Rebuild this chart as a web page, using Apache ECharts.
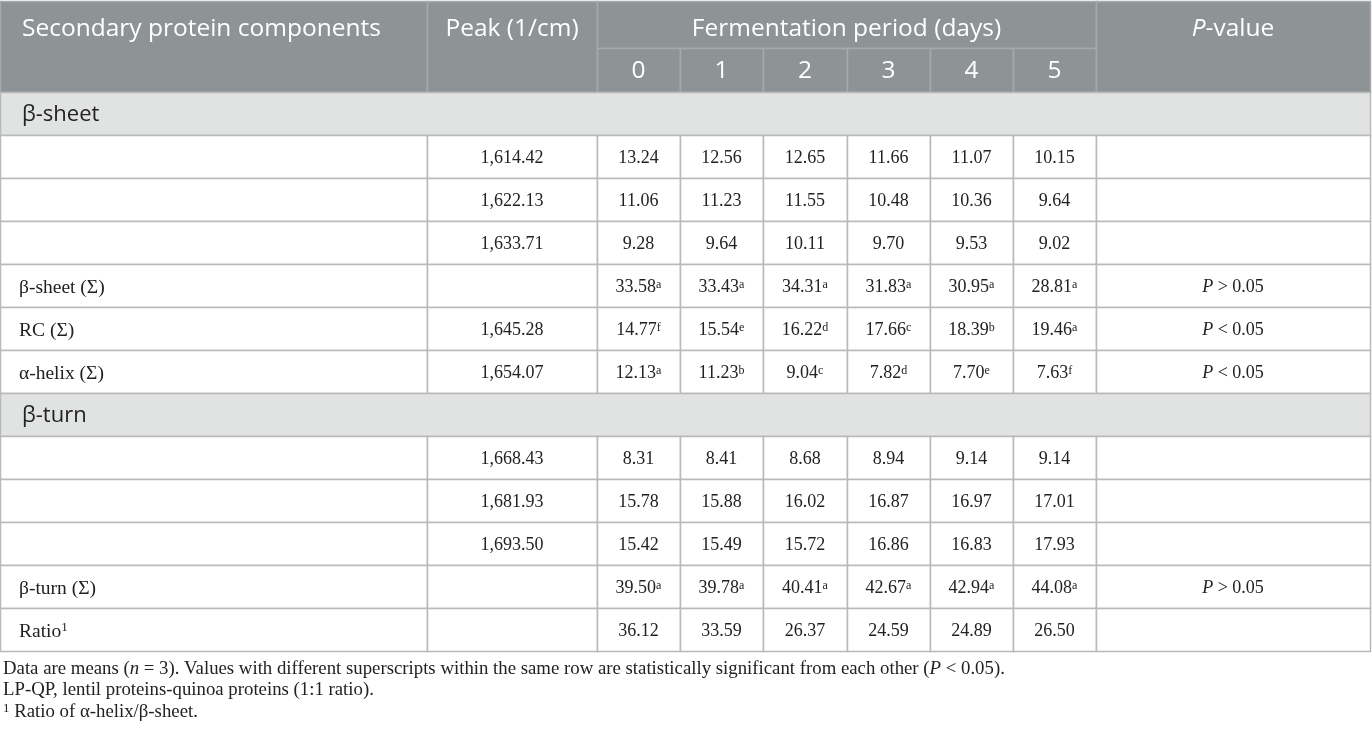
<!DOCTYPE html>
<html>
<head>
<meta charset="utf-8">
<script src="https://cdn.jsdelivr.net/npm/echarts@6/dist/echarts.min.js"></script>
<style>
html,body{margin:0;padding:0;background:#fff;}
#main{width:1372px;height:730px;}
</style>
</head>
<body>
<div id="main"></div>
<script>
// table values
var days = ['0', '1', '2', '3', '4', '5'];
var sheetPeaks = ['1,614.42', '1,622.13', '1,633.71'];
var sheetBands = [
    [13.24, 12.56, 12.65, 11.66, 11.07, 10.15],
    [11.06, 11.23, 11.55, 10.48, 10.36, 9.64],
    [9.28, 9.64, 10.11, 9.70, 9.53, 9.02]
];
var sheetSum = [33.58, 33.43, 34.31, 31.83, 30.95, 28.81];
var sheetSumSup = ['a', 'a', 'a', 'a', 'a', 'a'];
var rcPeak = '1,645.28';
var rcSum = [14.77, 15.54, 16.22, 17.66, 18.39, 19.46];
var rcSup = ['f', 'e', 'd', 'c', 'b', 'a'];
var helixPeak = '1,654.07';
var helixSum = [12.13, 11.23, 9.04, 7.82, 7.70, 7.63];
var helixSup = ['a', 'b', 'c', 'd', 'e', 'f'];
var turnPeaks = ['1,668.43', '1,681.93', '1,693.50'];
var turnBands = [
    [8.31, 8.41, 8.68, 8.94, 9.14, 9.14],
    [15.78, 15.88, 16.02, 16.87, 16.97, 17.01],
    [15.42, 15.49, 15.72, 16.86, 16.83, 17.93]
];
var turnSum = [39.50, 39.78, 40.41, 42.67, 42.94, 44.08];
var turnSup = ['a', 'a', 'a', 'a', 'a', 'a'];
var ratioVals = [36.12, 33.59, 26.37, 24.59, 24.89, 26.50];
var pSheet = '>', pRc = '<', pHelix = '<', pTurn = '>';

// layout
var colEdges = [0, 427, 597, 680, 763, 847, 930, 1013, 1096, 1370];
var tableTop = 1, headSplit = 48, headBottom = 92, rowH = 43;
var SANS = '"Open Sans", "Noto Sans", sans-serif';
var SERIF = '"Liberation Serif", "DejaVu Serif", serif';
var HEAD_BG = '#8e9395', SECT_BG = '#e1e3e2', LINE = '#b9b9b9', HEAD_LINE = '#a6aaac';

var rich = {
    s: {fontSize: 12, fontFamily: SERIF, fill: '#222', verticalAlign: 'top', lineHeight: 13},
    i: {fontSize: 18, fontFamily: SERIF, fontStyle: 'italic', fill: '#222'},
    fi: {fontSize: 18.8, fontFamily: SERIF, fontStyle: 'italic', fill: '#222'},
    fs: {fontSize: 13, fontFamily: SERIF, fill: '#222', verticalAlign: 'top', lineHeight: 14},
    ls: {fontSize: 13, fontFamily: SERIF, fill: '#222', verticalAlign: 'top', lineHeight: 14},
    hi: {fontSize: 24.5, fontFamily: SANS, fontStyle: 'italic', fill: '#fff'}
};

var cells = [];
function addCell(x0, y0, x1, y1, o) {
    o.x0 = x0; o.y0 = y0; o.x1 = x1; o.y1 = y1;
    cells.push(o);
}

// header
addCell(colEdges[0], tableTop, colEdges[1], headBottom, {fill: HEAD_BG, stroke: HEAD_LINE, text: 'Secondary protein components', head: true, align: 'left', pad: 22, ty: 29});
addCell(colEdges[1], tableTop, colEdges[2], headBottom, {fill: HEAD_BG, stroke: HEAD_LINE, text: 'Peak (1/cm)', head: true, ty: 29});
addCell(colEdges[2], tableTop, colEdges[8], headSplit, {fill: HEAD_BG, stroke: HEAD_LINE, text: 'Fermentation period (days)', head: true, ty: 29});
for (var d = 0; d < days.length; d++) {
    addCell(colEdges[2 + d], headSplit, colEdges[3 + d], headBottom, {fill: HEAD_BG, stroke: HEAD_LINE, text: days[d], head: true, ty: 71});
}
addCell(colEdges[8], tableTop, colEdges[9], headBottom, {fill: HEAD_BG, stroke: HEAD_LINE, text: '{hi|P}-value', head: true, ty: 29});

var y = headBottom;
function section(label) {
    addCell(colEdges[0], y, colEdges[9], y + rowH, {fill: SECT_BG, stroke: LINE, text: label, sect: true, align: 'left', pad: 22, dy: 1});
    y += rowH;
}
function fmt(v, sup) {
    return v.toFixed(2) + (sup ? '{s|' + sup + '}' : '');
}
function dataRow(label, peak, vals, sups, p) {
    addCell(colEdges[0], y, colEdges[1], y + rowH, {fill: '#fff', stroke: LINE, text: label, label: true, align: 'left', pad: 19, dy: 2});
    addCell(colEdges[1], y, colEdges[2], y + rowH, {fill: '#fff', stroke: LINE, text: peak, dy: 2});
    for (var k = 0; k < vals.length; k++) {
        addCell(colEdges[2 + k], y, colEdges[3 + k], y + rowH, {fill: '#fff', stroke: LINE, text: fmt(vals[k], sups && sups[k]), dy: 2});
    }
    addCell(colEdges[8], y, colEdges[9], y + rowH, {fill: '#fff', stroke: LINE, text: p ? '{i|P} ' + p + ' 0.05' : '', dy: 2});
    y += rowH;
}

section('β-sheet');
for (var b = 0; b < sheetBands.length; b++) dataRow('', sheetPeaks[b], sheetBands[b]);
dataRow('β-sheet (Σ)', '', sheetSum, sheetSumSup, pSheet);
dataRow('RC (Σ)', rcPeak, rcSum, rcSup, pRc);
dataRow('α-helix (Σ)', helixPeak, helixSum, helixSup, pHelix);
section('β-turn');
for (b = 0; b < turnBands.length; b++) dataRow('', turnPeaks[b], turnBands[b]);
dataRow('β-turn (Σ)', '', turnSum, turnSup, pTurn);
dataRow('Ratio{ls|1}', '', ratioVals);

// footnotes
var notes = [
    'Data are means ({fi|n} = 3). Values with different superscripts within the same row are statistically significant from each other ({fi|P} < 0.05).',
    'LP-QP, lentil proteins-quinoa proteins (1:1 ratio).',
    '{fs|1} Ratio of α-helix/β-sheet.'
];
for (var n = 0; n < notes.length; n++) {
    addCell(3, 658.5 + n * 21.5, 1370, 679.5 + n * 21.5, {note: true, text: notes[n], align: 'left', pad: 0});
}

function renderCell(params, api) {
    var c = cells[params.dataIndex];
    var p0 = api.coord([c.x0, c.y0]);
    var p1 = api.coord([c.x1, c.y1]);
    var w = p1[0] - p0[0], h = p1[1] - p0[1];
    var children = [];
    if (!c.note) {
        children.push({
            type: 'rect',
            shape: {x: Math.round(p0[0]) + 0.5, y: Math.round(p0[1]) + 0.5, width: Math.round(w), height: Math.round(h)},
            style: {fill: c.fill, stroke: c.stroke, lineWidth: 1.5}
        });
    }
    if (c.text) {
        var ty = c.ty != null ? api.coord([0, c.ty])[1] : p0[1] + h / 2 + (c.dy || 0);
        var font = c.head ? {fontSize: 24.5, fontFamily: SANS, fill: '#fff'}
            : c.sect ? {fontSize: 22, fontFamily: SANS, fill: '#222'}
            : c.note ? {fontSize: 18.8, fontFamily: SERIF, fill: '#222'}
            : c.label ? {fontSize: 19.5, fontFamily: SERIF, fill: '#222'}
            : {fontSize: 18, fontFamily: SERIF, fill: '#222'};
        children.push({
            type: 'text',
            x: c.align === 'left' ? p0[0] + c.pad : p0[0] + w / 2,
            y: ty,
            style: {
                text: c.text,
                fontSize: font.fontSize,
                fontFamily: font.fontFamily,
                fill: font.fill,
                align: c.align === 'left' ? 'left' : 'center',
                verticalAlign: 'middle',
                rich: rich
            }
        });
    }
    return {type: 'group', children: children};
}

var chart = echarts.init(document.getElementById('main'));
chart.setOption({
    animation: false,
    grid: {left: 0, right: 0, top: 0, bottom: 0},
    xAxis: {type: 'value', min: 0, max: 1372, show: false},
    yAxis: {type: 'value', min: 0, max: 730, inverse: true, show: false},
    series: [{
        type: 'custom',
        clip: false,
        renderItem: renderCell,
        encode: {x: [0, 2], y: [1, 3]},
        data: cells.map(function (c) { return [c.x0, c.y0, c.x1, c.y1]; })
    }]
});
</script>
</body>
</html>
